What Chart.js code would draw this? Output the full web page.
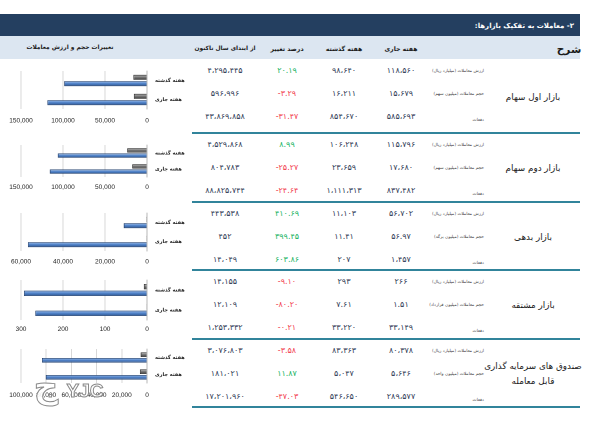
<!DOCTYPE html>
<html><head><meta charset="utf-8">
<script src="https://cdn.jsdelivr.net/npm/chart.js@4"></script>
<style>
html,body{margin:0;padding:0;background:#fff;}
#page{position:relative;width:595px;height:429px;overflow:hidden;font-family:"DejaVu Sans",sans-serif;background:#fff;}
.box{position:absolute;}
.t{position:absolute;transform:translate(-50%,-50%);white-space:nowrap;line-height:1;}
.r{position:absolute;transform:translate(-100%,-50%);white-space:nowrap;line-height:1;}
canvas{position:absolute;left:0;}
.num{font-size:8px;color:#2f3a55;}
.hdr{font-size:6.2px;font-weight:bold;color:#1a1a1a;}
.sub{font-size:4.3px;color:#444;}
.grp{font-size:8.8px;color:#1a1a1a;text-align:center;line-height:15px;}
.wm{position:absolute;transform:translate(-50%,-50%);white-space:nowrap;line-height:1;font-weight:bold;color:rgba(255,255,255,0.9);-webkit-text-stroke:1px #8a8a8a;}
</style></head>
<body><div id="page"></div>
<script>
// ---------- data ----------
const marketNames = ['بازار اول سهام','بازار دوم سهام','بازار بدهی','بازار مشتقه','صندوق های سرمایه گذاری<br>قابل معامله'];
const volumeUnits = ['میلیون سهم','میلیون سهم','میلیون برگه','میلیون قرارداد','میلیون واحد'];
const weekLabels = ['هفته گذشته','هفته جاری'];
const thisWeekValue  = [118560, 115796, 56702, 266, 80378];
const thisWeekVolume = [15679, 17680, 56.97, 1.51, 5646];
const thisWeekCount  = [585693, 837482, 1457, 33149, 289577];
const lastWeekValue  = [98640, 106248, 11103, 293, 83363];
const lastWeekVolume = [16211, 23659, 11.41, 7.61, 5047];
const lastWeekCount  = [854670, 1111313, 207, 33220, 546650];
const changeValue    = [20.19, 8.99, 410.69, -9.10, -3.58];
const changeVolume   = [-3.29, -25.27, 399.45, -80.20, 11.87];
const changeCount    = [-31.47, -24.64, 603.86, -0.21, -47.03];
const ytdValue       = [4295445, 4529868, 443538, 14155, 3076803];
const ytdVolume      = [596996, 804783, 452, 12109, 181021];
const ytdCount       = [43869858, 88825744, 14049, 1253332, 17201960];
const axisMax        = [150000, 150000, 60000, 300, 100000];
const axisStep       = [50000, 50000, 20000, 100, 20000];

// ---------- layout (not data) ----------
const groupTop = [59.5, 133, 202, 270, 339];
const sepLines = [133, 202, 270, 339, 407];
const chartGeom = [ // plotTop, plotBottom, tickY
  [70.5, 108.5, 120],
  [145, 177, 187],
  [212.5, 250.5, 261],
  [280, 320, 329],
  [349, 383, 395]
];
const CAT_PCT = 0.66, BAR_PCT = 0.82;

const page = document.getElementById('page');
function el(cls, html, x, y, style){
  const d = document.createElement('div'); d.className = cls; d.innerHTML = html;
  d.style.left = x + 'px'; d.style.top = y + 'px';
  if (style) Object.assign(d.style, style);
  page.appendChild(d); return d;
}
function box(x, y, w, h, bg){
  const d = document.createElement('div'); d.className = 'box';
  Object.assign(d.style, {left:x+'px', top:y+'px', width:w+'px', height:h+'px', background:bg});
  page.appendChild(d); return d;
}
const FA = '۰۱۲۳۴۵۶۷۸۹';
function fa(s){ return s.replace(/[0-9]/g, d => FA[d]); }
function fmt(n, dec){
  const neg = n < 0; const a = Math.abs(n);
  const s = dec > 0 ? a.toFixed(dec) : Math.round(a).toString();
  let [i, f] = s.split('.');
  i = i.replace(/\B(?=(\d{3})+(?!\d))/g, '،');
  return (neg ? '-' : '') + fa(i) + (f ? '.' + fa(f) : '');
}
function decOf(v){ return Number.isInteger(v) ? 0 : 2; }

// header
box(0, 14, 580, 22, '#243F60');
el('r', '<span dir="rtl">۲- معاملات به تفکیک بازارها:</span>', 574, 25.5, {fontSize:'7px', fontWeight:'bold', color:'#fff'});
box(0, 36, 580, 23, '#DCE6F1');
el('t hdr', '<span dir="rtl">شرح</span>', 569, 49, {fontSize:'10.5px'});
el('t hdr', '<span dir="rtl">هفته جاری</span>', 401, 48.5);
el('t hdr', '<span dir="rtl">هفته گذشته</span>', 344, 48.5);
el('t hdr', '<span dir="rtl">درصد تغییر</span>', 287, 48.5);
el('t hdr', '<span dir="rtl">از ابتدای سال تاکنون</span>', 225, 48.5, {fontSize:'5.9px'});
el('t hdr', '<span dir="rtl">تغییرات حجم و ارزش معاملات</span>', 70, 47.5, {fontSize:'5.9px'});

sepLines.forEach(y => box(192, y - 1, 388, 2.2, '#31849B'));

const GREEN = '#17B35F', RED = '#F2404E';
for (let g = 0; g < 5; g++) {
  const rows = [
    {sub:'ارزش معاملات (میلیارد ریال)', cur:thisWeekValue[g], last:lastWeekValue[g], pct:changeValue[g], ytd:ytdValue[g]},
    {sub:'حجم معاملات (' + volumeUnits[g] + ')', cur:thisWeekVolume[g], last:lastWeekVolume[g], pct:changeVolume[g], ytd:ytdVolume[g]},
    {sub:'دفعات', cur:thisWeekCount[g], last:lastWeekCount[g], pct:changeCount[g], ytd:ytdCount[g]}
  ];
  rows.forEach((r, i) => {
    const y = groupTop[g] + 11.5 + 23 * i;
    el('r sub', '<span dir="rtl">' + r.sub + '</span>', 484, y + (i === 2 ? 3 : 0));
    el('t num', '<span dir="ltr">' + fmt(r.cur, decOf(r.cur)) + '</span>', 401, y);
    el('t num', '<span dir="ltr">' + fmt(r.last, decOf(r.last)) + '</span>', 344, y);
    el('t num', '<span dir="ltr">' + fmt(r.pct, 2) + '</span>', 287, y, {color: r.pct >= 0 ? GREEN : RED});
    el('t num', '<span dir="ltr">' + fmt(r.ytd, 0) + '</span>', 225, y);
  });
  el('t grp', '<div dir="rtl">' + marketNames[g] + '</div>', 533, groupTop[g] + 11.5 + 23 + (g === 0 ? 3 : 0));
}

// ---------- charts ----------
const BLUE = ['#A8C7EE', '#5486CC', '#2B5592'];
const GRAY = ['#C8C8C8', '#7A7A7A', '#3A3A3A'];
function grad(colors){
  return function(c){
    const chart = c.chart, ys = chart.scales && chart.scales.y;
    if (!ys || c.dataIndex === undefined || !isFinite(ys.height)) return colors[1];
    const center = ys.getPixelForValue(c.dataIndex);
    const spacing = ys.height / 2;
    const slot = spacing * CAT_PCT / 2;
    const th = slot * BAR_PCT;
    const bc = center + (c.datasetIndex === 0 ? -slot / 2 : slot / 2);
    const gr = chart.ctx.createLinearGradient(0, bc - th / 2, 0, bc + th / 2);
    gr.addColorStop(0, colors[0]); gr.addColorStop(0.45, colors[1]); gr.addColorStop(1, colors[2]);
    return gr;
  };
}
const TICK_LH = 7.8;
for (let g = 0; g < 5; g++) {
  const [pt, pb, ty] = chartGeom[g];
  const topPad = 4;
  const top = pt - topPad;
  const pad = ty - pb - TICK_LH / 2;
  const H = topPad + (pb - pt) + 2 * pad + TICK_LH;
  const cv = document.createElement('canvas');
  cv.width = 192; cv.height = Math.round(H);
  cv.style.top = top + 'px'; cv.style.width = '192px'; cv.style.height = Math.round(H) + 'px';
  page.appendChild(cv);
  new Chart(cv, {
    type: 'bar',
    data: {
      labels: weekLabels,
      datasets: [
        {label:'حجم', data:[lastWeekVolume[g], thisWeekVolume[g]], backgroundColor: grad(GRAY), borderColor:'#2a2a2a', borderWidth:0.8, categoryPercentage:CAT_PCT, barPercentage:BAR_PCT},
        {label:'ارزش', data:[lastWeekValue[g], thisWeekValue[g]], backgroundColor: grad(BLUE), borderColor:'#1F3D6B', borderWidth:0.8, categoryPercentage:CAT_PCT, barPercentage:BAR_PCT}
      ]
    },
    options: {
      indexAxis: 'y', responsive: false, animation: false, devicePixelRatio: 2,
      layout: {padding: {left: 21, top: topPad, right: 0, bottom: 0}},
      plugins: {legend: {display: false}, tooltip: {enabled: false}},
      scales: {
        x: {
          type: 'linear', reverse: true, min: 0, max: axisMax[g],
          grid: {color: '#CFCFCF', lineWidth: 0.8, drawTicks: false},
          border: {display: false},
          ticks: {stepSize: axisStep[g], padding: pad, maxRotation: 0, autoSkip: false,
            font: {family: 'Liberation Sans', size: 6.5, lineHeight: 1.2}, color: '#222',
            callback: v => v.toLocaleString('en-US')}
        },
        y: {
          position: 'right',
          grid: {display: false, drawTicks: false},
          border: {display: true, color: '#B0B0B0', width: 0.8},
          ticks: {padding: 8, font: {family: 'DejaVu Sans', size: 5, weight: 'bold'}, color: '#222'},
          afterFit: s => { s.width = 45; s.paddingTop = 0; s.paddingBottom = 0; }
        }
      }
    }
  });
}

// watermark
el('wm', 'ج', 46, 386, {fontSize:'34px'});
el('wm', 'YJC', 85, 390, {fontSize:'19px', fontFamily:'Liberation Sans'});
</script>
</body></html>
